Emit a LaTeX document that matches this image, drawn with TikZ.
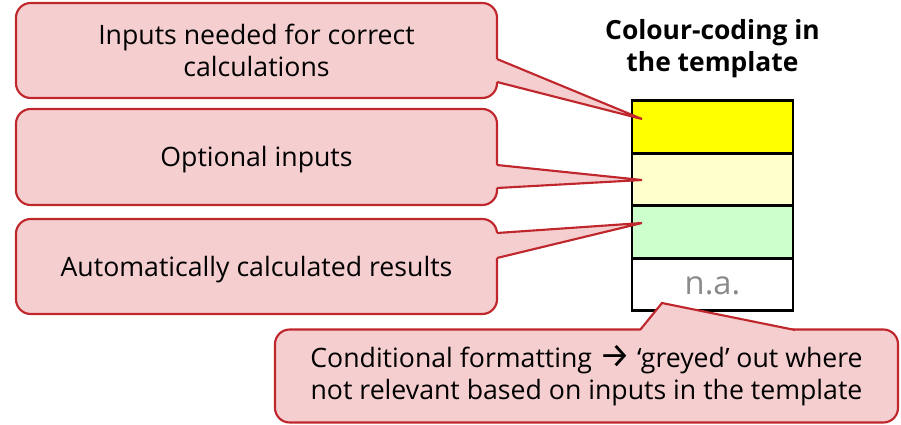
\documentclass[tikz,border=0pt]{standalone}
\usepackage{fontspec}
\setmainfont{Open Sans}
\newfontfamily\arrowfont{Fira Sans}
\definecolor{cfill}{HTML}{F5CECF}
\definecolor{cline}{HTML}{C0272D}
\definecolor{ylw}{HTML}{FFFF00}
\definecolor{lylw}{HTML}{FFFFCC}
\definecolor{lgrn}{HTML}{CCFFCC}
\definecolor{naGrey}{HTML}{8A8A8A}
\begin{document}
\begin{tikzpicture}[x=0.75pt,y=-0.75pt,
  callout/.style={draw=cline,fill=cfill,line width=1.6pt,rounded corners=11pt,
    align=center,font=\fontsize{20}{24}\selectfont,inner sep=0pt},
  ptrfill/.style={fill=cfill,draw=none},
  ptrline/.style={draw=cline,line width=1.6pt,line join=miter},
  cell/.style={draw=black,line width=2pt,minimum width=161*0.75pt,minimum height=52.5*0.75pt,inner sep=0pt},
  title/.style={font=\fontsize{19.8}{24}\selectfont\bfseries,align=center}]
\useasboundingbox (0,0) rectangle (901,425);
% title
\node[title] (title) at (712.5,49) {Colour-coding in\\the template};
% table
\node[cell,fill=ylw]  (r1) at (712.5,127) {};
\node[cell,fill=lylw] (r2) at (712.5,179.5) {};
\node[cell,fill=lgrn] (r3) at (712.5,232) {};
\node[cell,fill=white](r4) at (712.5,284.5) {};
\node[text=naGrey,font=\fontsize{24.5}{24}\selectfont] (na) at (712.5,286) {n.a.};
% callout 1
\node[callout,minimum width=481*0.75pt,minimum height=95*0.75pt] (c1) at (256.5,50.5)
  {Inputs needed for correct\\calculations};
\coordinate (t1) at (642,119);
\fill[ptrfill] (490,59) -- (497,59) -- (t1) -- (497,82) -- (490,82) -- cycle;
\draw[ptrline] (497,59) -- (t1) -- (497,82);
% callout 2
\node[callout,minimum width=481*0.75pt,minimum height=96*0.75pt] (c2) at (256.5,157)
  {\raisebox{-2pt}[\height][\depth]{Optional inputs}};
\coordinate (t2) at (642,180);
\fill[ptrfill] (490,165) -- (497,165) -- (t2) -- (497,188) -- (490,188) -- cycle;
\draw[ptrline] (497,165) -- (t2) -- (497,188);
% callout 3
\node[callout,minimum width=481*0.75pt,minimum height=95*0.75pt] (c3) at (256.5,266.5)
  {\raisebox{-2pt}[\height][\depth]{Automatically calculated results}};
\coordinate (t3) at (642,223);
\fill[ptrfill] (490,233) -- (497,233) -- (t3) -- (497,258) -- (490,258) -- cycle;
\draw[ptrline] (497,233) -- (t3) -- (497,258);
% callout 4
\node[callout,minimum width=623*0.75pt,minimum height=93*0.75pt] (c4) at (586.5,376)
  {Conditional formatting {\arrowfont\fontsize{26}{24}\selectfont →} ‘greyed’ out where\\not relevant based on inputs in the template};
\coordinate (t4) at (662,303);
\fill[ptrfill] (640,336) -- (640,330) -- (t4) -- (795,330) -- (795,336) -- cycle;
\draw[ptrline] (640,330) -- (t4) -- (795,330);
\end{tikzpicture}
\end{document}
